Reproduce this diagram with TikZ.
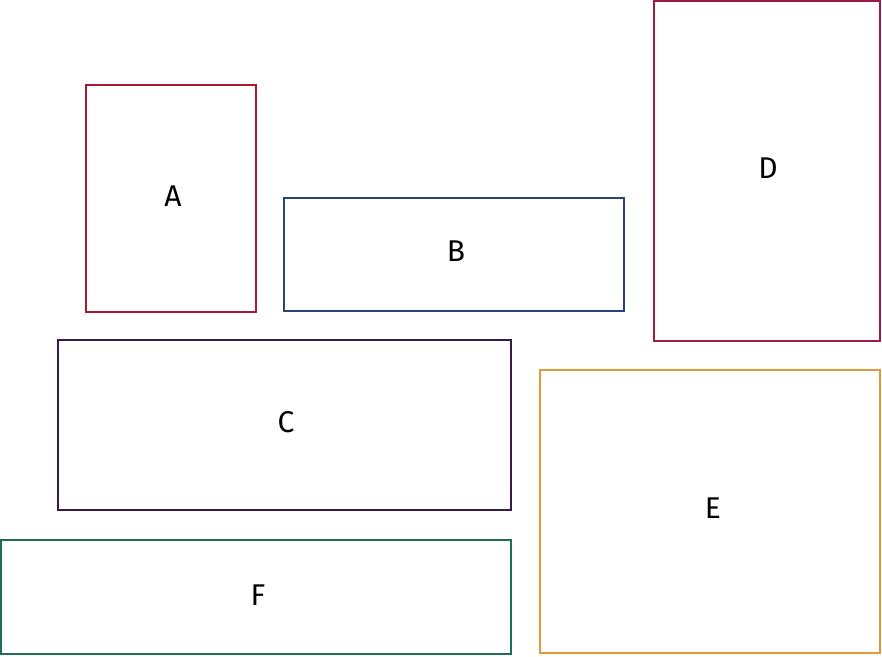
\documentclass[tikz,border=0pt]{standalone}
\usepackage{fontspec}
\setmainfont{Fira Sans}
\definecolor{cA}{HTML}{A6192E}
\definecolor{cB}{HTML}{2B4478}
\definecolor{cC}{HTML}{3A1A4A}
\definecolor{cD}{HTML}{9B1B4B}
\definecolor{cE}{HTML}{E09A3A}
\definecolor{cF}{HTML}{1F6E5A}
\begin{document}
\begin{tikzpicture}[x=1pt,y=-1pt,
  box/.style={draw=#1,line width=1.5pt,fill=white},
  lbl/.style={font=\fontsize{30}{34}\selectfont,text=black}]
\useasboundingbox (0,0) rectangle (882,656);
\draw[box=cA] (86,85) rectangle (256,312);
\node[lbl] (a) at (173,196) {A};
\draw[box=cB] (284,198) rectangle (624,311);
\node[lbl] (b) at (456,251) {B};
\draw[box=cD] (654,1) rectangle (880,341);
\node[lbl] (d) at (768,168) {D};
\draw[box=cC] (58,340) rectangle (511,510);
\node[lbl] (c) at (286,422) {C};
\draw[box=cE] (540,370) rectangle (880,653);
\node[lbl] (e) at (713,508) {E};
\draw[box=cF] (1,540) rectangle (511,654);
\node[lbl] (f) at (258,595) {F};
\end{tikzpicture}
\end{document}
